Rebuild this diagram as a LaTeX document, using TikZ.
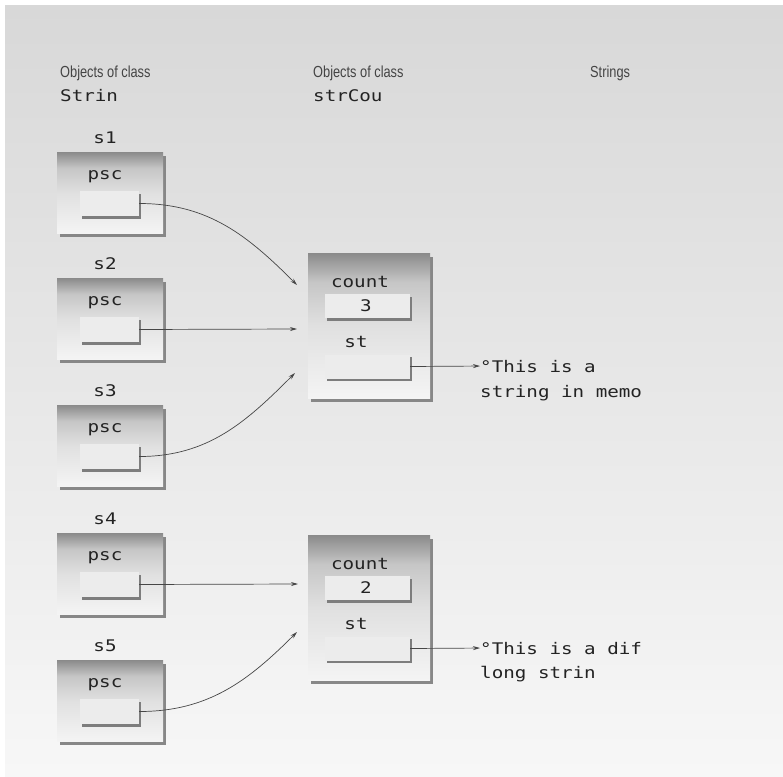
\documentclass[tikz,border=0pt]{standalone}
\usepackage{fontspec}
\setmainfont{Liberation Sans}
\newfontfamily\monof[FakeStretch=1.2]{DejaVu Sans Mono}
\newfontfamily\headf[FakeStretch=0.8]{Liberation Sans}
\usetikzlibrary{arrows.meta,shadows}
\definecolor{bgtop}{RGB}{216,216,216}
\definecolor{bgbot}{RGB}{247,247,247}
\definecolor{boxtop}{RGB}{138,138,138}
\definecolor{boxup}{RGB}{198,198,198}
\definecolor{boxmid}{RGB}{224,224,224}
\definecolor{boxbot}{RGB}{244,244,244}
\definecolor{shd}{RGB}{135,135,135}
\definecolor{cshd}{RGB}{125,125,125}
\definecolor{cellfill}{RGB}{236,236,236}
\definecolor{ink}{RGB}{35,35,35}
\definecolor{wire}{RGB}{70,70,70}
\pgfdeclareverticalshading{boxshade}{100bp}{color(0bp)=(boxbot); color(25bp)=(boxbot); color(50bp)=(boxmid); color(65bp)=(boxup); color(75bp)=(boxtop); color(100bp)=(boxtop)}
\tikzset{
  obox/.style={minimum width=106, minimum height=81, inner sep=0, shading=boxshade,
     drop shadow={shadow xshift=3pt, shadow yshift=-4pt, fill=shd, opacity=1}},
  rbox/.style={minimum width=122, minimum height=145, inner sep=0, shading=boxshade,
     drop shadow={shadow xshift=3pt, shadow yshift=-4pt, fill=shd, opacity=1}},
  cell/.style={minimum width=59, minimum height=25, inner sep=0, fill=cellfill,
     drop shadow={shadow xshift=2pt, shadow yshift=-2.5pt, fill=cshd, opacity=1}},
  wcell/.style={cell, minimum width=85, minimum height=24},
  mono/.style={font=\monof\fontsize{16}{18}\selectfont, text=ink, inner sep=0},
  head/.style={font=\headf\fontsize{16}{18}\selectfont, text=ink!85, inner sep=0, anchor=base west},
  conn/.style={draw=wire, line width=0.7pt, -{Stealth[length=7pt,width=4pt]}}
}
\begin{document}
\begin{tikzpicture}[x=1pt,y=-1pt]
\useasboundingbox (0,0) rectangle (783,776);
\fill[white] (0,0) rectangle (783,776);
\shade[top color=bgtop, bottom color=bgbot] (5,6) rectangle (783,776);

% headers
\node[head] (h1) at (60,77) {Objects of class};
\node[mono, anchor=base west] (h1b) at (60,101) {Strin};
\node[head] (h2) at (313,77) {Objects of class};
\node[mono, anchor=base west] (h2b) at (313,101) {strCou};
\node[head] (h3) at (590,77) {Strings};

% left objects
\foreach \n/\T in {1/152,2/278,3/405,4/533,5/660}{
  \node[mono] (l\n) at (105,\T-14) {s\n};
  \node[obox] (o\n) at (110,\T+40.5) {};
  \node[mono] (p\n) at (105,\T+25) {psc};
  \node[cell] (i\n) at (109.5,\T+51.5) {};
}

% right objects
\foreach \n/\T/\v in {1/253/3,2/535/2}{
  \node[rbox] (r\n) at (369,\T+72.5) {};
  \node[mono] (c\n) at (360,\T+29) {count};
  \node[wcell] (v\n) at (367.5,\T+53) {};
  \node[mono] (vv\n) at (366,\T+53) {\v};
  \node[mono] (st\n) at (356,\T+89) {st};
  \node[wcell] (q\n) at (367.5,\T+113.5) {};
}

% strings
\node[mono, anchor=base west] (a1) at (480,372) {°This is a};
\node[mono, anchor=base west] (a2) at (480,397) {string in memo};
\node[mono, anchor=base west] (b1) at (480,654) {°This is a dif};
\node[mono, anchor=base west] (b2) at (480,678) {long strin};

% targets
\coordinate (t1) at (297,285);
\coordinate (t2) at (297,329);
\coordinate (t3) at (295,373);
\coordinate (t4) at (298,584);
\coordinate (t5) at (297,632);

\draw[conn] (i1.east) to[out=0,in=135] (t1);
\draw[conn] (i2.east) -- (t2);
\draw[conn] (i3.east) to[out=0,in=-135] (t3);
\draw[conn] (i4.east) -- (t4);
\draw[conn] (i5.east) to[out=0,in=-135] (t5);

\draw[conn] (q1.east) -- (a1.west);
\draw[conn] (q2.east) -- (b1.west);
\end{tikzpicture}
\end{document}
